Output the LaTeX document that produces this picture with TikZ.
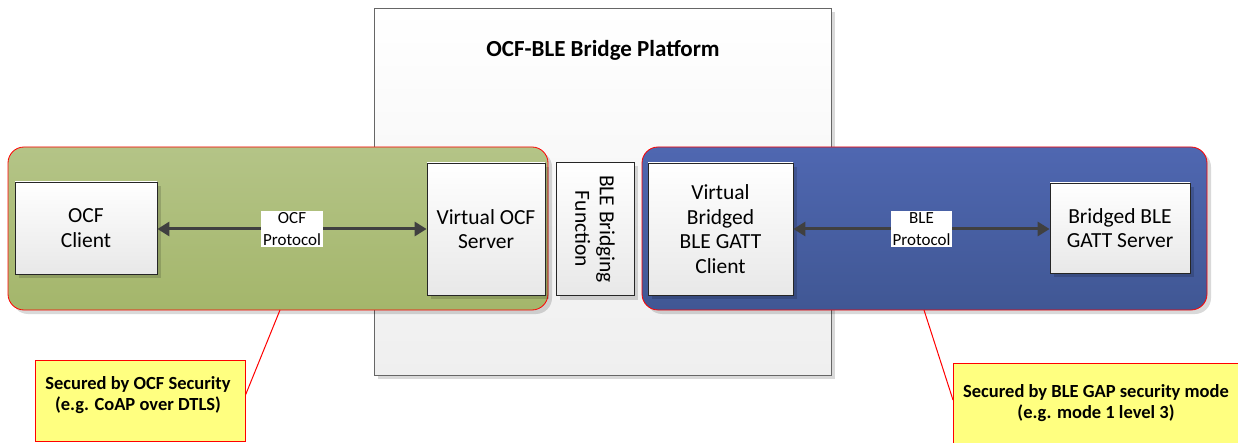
\documentclass[tikz,border=0pt]{standalone}
\usepackage{fontspec}
\setmainfont{Carlito}
\usetikzlibrary{shadows,arrows.meta}
\definecolor{greentop}{HTML}{B4C487}
\definecolor{greenbot}{HTML}{A4B66B}
\definecolor{bluetop}{HTML}{4F67B1}
\definecolor{bluebot}{HTML}{405794}
\definecolor{boxbot}{HTML}{E8E8E8}
\definecolor{platbot}{HTML}{EFEFEF}
\definecolor{callfill}{HTML}{FFFF80}
\definecolor{arrowcol}{HTML}{404040}
\definecolor{redline}{HTML}{FF0000}
\tikzset{
  shad/.style={drop shadow={shadow xshift=4pt,shadow yshift=-4pt,fill=black,opacity=0.15}},
  platform/.style={draw=black!60,line width=0.8pt,top color=white,bottom color=platbot,shad},
  region/.style={draw=redline,line width=0.8pt,rounded corners=16pt,shad},
  inner/.style={draw=black!85,line width=0.8pt,top color=white,bottom color=boxbot,shad,
    align=center,font=\fontsize{21.5}{24.5}\selectfont},
  proto/.style={fill=white,inner sep=2pt,align=center,font=\fontsize{17}{21.5}\selectfont},
  biarrow/.style={arrowcol,line width=3pt,{Triangle[length=12pt,width=14pt]}-{Triangle[length=12pt,width=14pt]}},
  callout/.style={draw=redline,line width=1pt,fill=callfill},
  calltext/.style={align=center,font=\bfseries\fontsize{18.5}{21.5}\selectfont},
  pointer/.style={draw=redline,line width=1pt}
}
\begin{document}
\begin{tikzpicture}[x=1pt,y=-1pt]
\useasboundingbox (0,0) rectangle (1238,443);
% platform
\draw[platform] (374,8) rectangle (831,375);
\node[font=\bfseries\fontsize{23}{27}\selectfont] (title) at (603,50) {OCF-BLE Bridge Platform};
% regions
\path[region,top color=greentop,bottom color=greenbot] (8,147) rectangle (548,310);
\coordinate (gtip) at (280,310);
\path[region,top color=bluetop,bottom color=bluebot] (642,147) rectangle (1207,310);
\coordinate (btip) at (924,310);
% inner boxes
\node[inner,minimum width=142pt,minimum height=92pt] (client) at (86,228) {OCF\\Client};
\node[inner,minimum width=118pt,minimum height=132pt] (vserver) at (486,229) {Virtual OCF\\Server};
\node[inner,minimum width=78pt,minimum height=133pt] (bridge) at (595,229) {};
\node[rotate=-90,align=center,font=\fontsize{21.5}{24.5}\selectfont] (bridgetxt) at (bridge.center) {BLE Bridging\\Function};
\node[inner,minimum width=145pt,minimum height=132pt] (vclient) at (720.5,229) {Virtual\\Bridged\\BLE GATT\\Client};
\node[inner,minimum width=140pt,minimum height=90pt] (bserver) at (1120,228) {Bridged BLE\\GATT Server};
% arrows
\draw[biarrow] (client.east |- 0,229) -- (vserver.west |- 0,229)
  node[midway,proto,text=black] (ocfp) {OCF\\Protocol};
\draw[biarrow] (vclient.east |- 0,229) -- (bserver.west |- 0,229)
  node[midway,proto,text=black] (blep) {BLE\\Protocol};
% callouts
\node[callout,minimum width=210pt,minimum height=81pt] (lcall) at (140,400.5) {};
\node[calltext] (ltext) at (138,395) {Secured by OCF Security\\(e.g. CoAP over DTLS)};
\node[callout,minimum width=300pt,minimum height=82pt,anchor=west] (rcall) at (953,404) {};
\node[calltext] (rtext) at (1096,403) {Secured by BLE GAP security mode\\(e.g. mode 1 level 3)};
\draw[pointer] (gtip) -- (lcall.east |- 0,395);
\draw[pointer] (btip) -- (rcall.west |- 0,400);
\end{tikzpicture}
\end{document}
